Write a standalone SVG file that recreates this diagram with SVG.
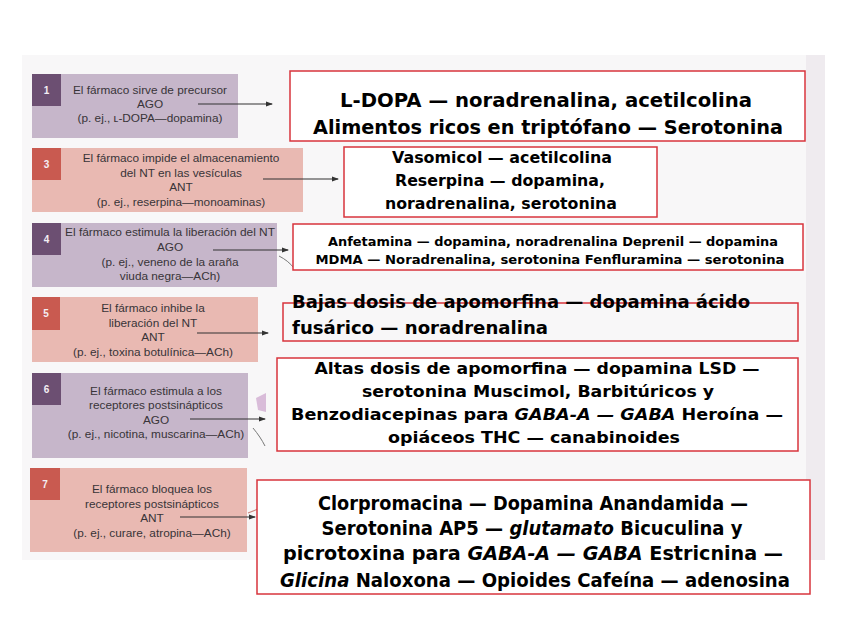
<svg xmlns="http://www.w3.org/2000/svg" width="848" height="636" viewBox="0 0 848 636">
<defs>
<marker id="ah" markerUnits="userSpaceOnUse" markerWidth="7" markerHeight="6" refX="6" refY="3" orient="auto">
<path d="M0,0.5 L7,3 L0,5.5 Z" fill="#333"/>
</marker>
<style>
.lt{font-family:"Liberation Sans",Arial,sans-serif;font-size:11.8px;fill:#383438;text-anchor:middle}
.num{font-family:"Liberation Sans",Arial,sans-serif;font-size:10px;font-weight:bold;fill:#f4eef4;text-anchor:middle}
.pb{fill:#c6b6ca}
.pn{fill:#6c4f72}
.rb{fill:#e9b9b2}
.rn{fill:#c95a50}
.rbox{fill:#fff;stroke:#d8343c;stroke-width:1.5}
.rbo{fill:none;stroke:#d8343c;stroke-width:1.5}
.ct{font-family:"DejaVu Sans",sans-serif;fill:#000;text-anchor:middle;font-weight:bold}
.cl{font-family:"DejaVu Sans",sans-serif;fill:#000;font-weight:bold}
.conn{stroke:#333;stroke-width:1.2;fill:none;marker-end:url(#ah)}
.it{font-style:italic}
</style>
</defs>
<rect x="0" y="0" width="848" height="636" fill="#ffffff"/>
<rect x="22" y="55" width="803" height="505" fill="#f8f7f8"/>
<rect x="806" y="55" width="19" height="505" fill="#efebef"/>
<path d="M279,256 C285,259 290,263 294,268" stroke="#777" stroke-width="1" fill="none"/>
<path d="M256,398 L266,393 L266,412 L258,410 Z" fill="#d9bcd9"/>
<path d="M253,428 C258,434 262,440 265,446" stroke="#777" stroke-width="1" fill="none"/>
<path d="M248,513 L258,509" stroke="#c9867e" stroke-width="1.2" fill="none"/>

<g id="drug1">
<rect class="pb" x="32" y="74" width="206" height="64"/>
<rect class="pn" x="32" y="74" width="29" height="32"/>
<text class="num" x="46.5" y="94">1</text>
<text class="lt" x="150" y="94">El fármaco sirve de precursor</text>
<text class="lt" x="150" y="108">AGO</text>
<text class="lt" x="150" y="122">(p. ej., ʟ-DOPA—dopamina)</text>
</g>
<g id="drug3">
<rect class="rb" x="32" y="148" width="271" height="64"/>
<rect class="rn" x="32" y="148" width="29" height="32"/>
<text class="num" x="46.5" y="168">3</text>
<text class="lt" x="181" y="162">El fármaco impide el almacenamiento</text>
<text class="lt" x="181" y="177">del NT en las vesículas</text>
<text class="lt" x="181" y="191">ANT</text>
<text class="lt" x="181" y="206">(p. ej., reserpina—monoaminas)</text>
</g>
<g id="drug4">
<rect class="pb" x="32" y="223" width="245" height="64"/>
<rect class="pn" x="32" y="223" width="29" height="32"/>
<text class="num" x="46.5" y="243">4</text>
<text class="lt" x="170" y="236" textLength="210" lengthAdjust="spacingAndGlyphs">El fármaco estimula la liberación del NT</text>
<text class="lt" x="170" y="251">AGO</text>
<text class="lt" x="170" y="266">(p. ej., veneno de la araña</text>
<text class="lt" x="170" y="280">viuda negra—ACh)</text>
</g>
<g id="drug5">
<rect class="rb" x="32" y="297" width="226" height="65"/>
<rect class="rn" x="32" y="297" width="28" height="33"/>
<text class="num" x="46" y="317">5</text>
<text class="lt" x="153" y="312">El fármaco inhibe la</text>
<text class="lt" x="153" y="327">liberación del NT</text>
<text class="lt" x="153" y="341">ANT</text>
<text class="lt" x="153" y="356">(p. ej., toxina botulínica—ACh)</text>
</g>
<g id="drug6">
<rect class="pb" x="32" y="373" width="216" height="85"/>
<rect class="pn" x="32" y="373" width="29" height="32"/>
<text class="num" x="46.5" y="393">6</text>
<text class="lt" x="156" y="395">El fármaco estimula a los</text>
<text class="lt" x="156" y="409">receptores postsinápticos</text>
<text class="lt" x="156" y="424">AGO</text>
<text class="lt" x="156" y="438">(p. ej., nicotina, muscarina—ACh)</text>
</g>
<g id="drug7">
<rect class="rb" x="30" y="468" width="217" height="84"/>
<rect class="rn" x="30" y="468" width="30" height="32"/>
<text class="num" x="45" y="488">7</text>
<text class="lt" x="152" y="493">El fármaco bloquea los</text>
<text class="lt" x="152" y="508">receptores postsinápticos</text>
<text class="lt" x="152" y="522">ANT</text>
<text class="lt" x="152" y="537">(p. ej., curare, atropina—ACh)</text>
</g>

<g id="connectors">
<line class="conn" x1="198" y1="104" x2="272" y2="104"/>
<line class="conn" x1="263" y1="179" x2="338" y2="179"/>
<line class="conn" x1="213" y1="250" x2="288" y2="250"/>
<line class="conn" x1="197" y1="333" x2="268" y2="333"/>
<line class="conn" x1="190" y1="419" x2="265" y2="419"/>
<line class="conn" x1="180" y1="517" x2="255" y2="517"/>
</g>

<g id="ex1">
<rect class="rbox" x="290" y="71" width="515" height="70"/>
<text class="ct" x="546" y="107" font-size="19" textLength="412" lengthAdjust="spacingAndGlyphs">L-DOPA — noradrenalina, acetilcolina</text>
<text class="ct" x="548" y="134" font-size="19" textLength="470" lengthAdjust="spacingAndGlyphs">Alimentos ricos en triptófano — Serotonina</text>
</g>
<g id="ex3">
<rect class="rbox" x="344" y="147" width="313" height="70"/>
<text class="ct" x="502" y="163" font-size="15" textLength="220" lengthAdjust="spacingAndGlyphs">Vasomicol — acetilcolina</text>
<text class="ct" x="500" y="186" font-size="15" textLength="210" lengthAdjust="spacingAndGlyphs">Reserpina — dopamina,</text>
<text class="ct" x="501" y="209" font-size="15" textLength="232" lengthAdjust="spacingAndGlyphs">noradrenalina, serotonina</text>
</g>
<g id="ex4">
<rect class="rbox" x="293" y="224" width="510" height="46"/>
<text class="ct" x="553" y="246" font-size="12.5" font-weight="normal" textLength="450" lengthAdjust="spacingAndGlyphs">Anfetamina — dopamina, noradrenalina Deprenil — dopamina</text>
<text class="ct" x="550" y="264" font-size="12.5" font-weight="normal" textLength="469" lengthAdjust="spacingAndGlyphs">MDMA — Noradrenalina, serotonina Fenfluramina — serotonina</text>
</g>
<g id="ex5">
<rect class="rbo" x="283" y="303" width="515" height="38"/>
<text class="cl" x="292" y="308" font-size="18.5" textLength="458" lengthAdjust="spacingAndGlyphs">Bajas dosis de apomorfina — dopamina ácido</text>
<text class="cl" x="292" y="334" font-size="18.5" textLength="256" lengthAdjust="spacingAndGlyphs">fusárico — noradrenalina</text>
</g>
<g id="ex6">
<rect class="rbox" x="277" y="358" width="521" height="93"/>
<text class="ct" x="537" y="374" font-size="16.5" textLength="445" lengthAdjust="spacingAndGlyphs">Altas dosis de apomorfina — dopamina LSD —</text>
<text class="ct" x="538" y="397" font-size="16.5" textLength="352" lengthAdjust="spacingAndGlyphs">serotonina Muscimol, Barbitúricos y</text>
<text class="ct" x="537" y="420" font-size="16.5" textLength="492" lengthAdjust="spacingAndGlyphs">Benzodiacepinas para <tspan class="it">GABA-A — GABA</tspan> Heroína —</text>
<text class="ct" x="534" y="443" font-size="16.5" textLength="292" lengthAdjust="spacingAndGlyphs">opiáceos THC — canabinoides</text>
</g>
<g id="ex7">
<rect class="rbox" x="257" y="480" width="553" height="114"/>
<text class="ct" x="533" y="510" font-size="19" textLength="430" lengthAdjust="spacingAndGlyphs">Clorpromacina — Dopamina Anandamida —</text>
<text class="ct" x="532" y="535" font-size="19" textLength="421" lengthAdjust="spacingAndGlyphs">Serotonina AP5 — <tspan class="it">glutamato</tspan> Bicuculina y</text>
<text class="ct" x="533" y="560" font-size="19" textLength="500" lengthAdjust="spacingAndGlyphs">picrotoxina para <tspan class="it">GABA-A — GABA</tspan> Estricnina —</text>
<text class="ct" x="535" y="587" font-size="19" textLength="510" lengthAdjust="spacingAndGlyphs"><tspan class="it">Glicina</tspan> Naloxona — Opioides Cafeína — adenosina</text>
</g>
</svg>
